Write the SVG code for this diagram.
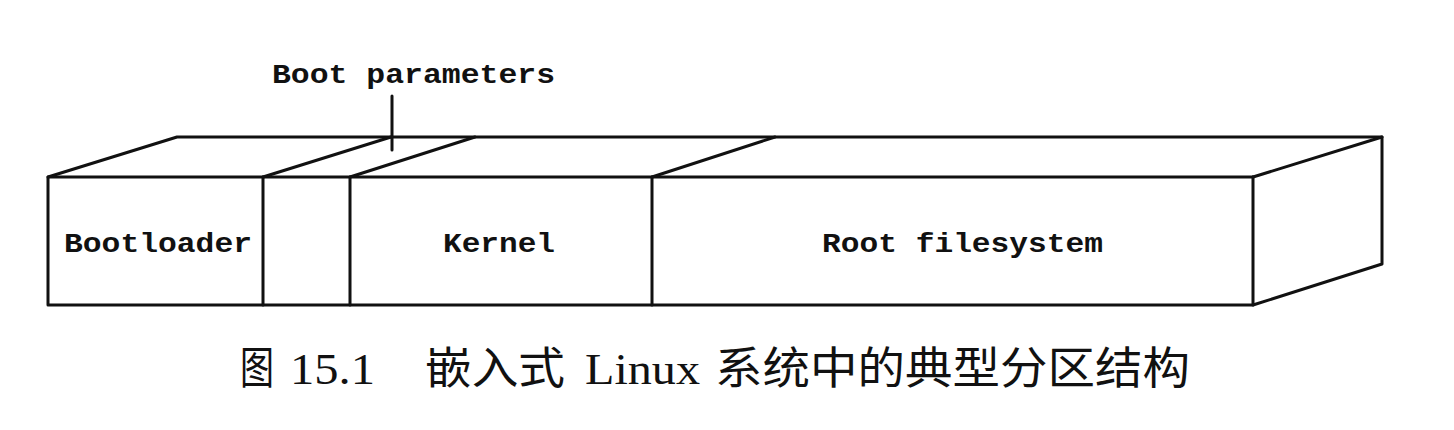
<svg xmlns="http://www.w3.org/2000/svg" width="1454" height="430" viewBox="0 0 1454 430">
<style>
.ln{fill:none;stroke:#111;stroke-width:3;stroke-linejoin:round;stroke-linecap:round}
.lbl{font-family:"Liberation Mono","DejaVu Sans Mono",monospace;font-weight:bold;font-size:28px;fill:#111}
.cap{font-family:"Liberation Serif","Noto Sans CJK SC",serif;font-size:44px;fill:#111}
</style>
<rect width="1454" height="430" fill="#fff"/>
<g id="box">
<polygon class="ln" points="48,177 177,137 1382,137 1382,264 1253,305 48,305"/>
<line class="ln" x1="1253" y1="177" x2="1382" y2="137"/>
<line class="ln" x1="48" y1="177" x2="1253" y2="177"/>
<line class="ln" x1="1253" y1="177" x2="1253" y2="305"/>
</g>
<g id="bootloader">
<line class="ln" x1="263" y1="177" x2="263" y2="305"/>
<line class="ln" x1="263" y1="177" x2="391" y2="137"/>
<text class="lbl" x="64" y="252" textLength="188" lengthAdjust="spacingAndGlyphs">Bootloader</text>
</g>
<g id="bootparams">
<line class="ln" x1="350" y1="177" x2="350" y2="305"/>
<line class="ln" x1="350" y1="177" x2="475" y2="137"/>
</g>
<g id="kernel">
<line class="ln" x1="652" y1="177" x2="652" y2="305"/>
<line class="ln" x1="652" y1="177" x2="775" y2="137"/>
<text class="lbl" x="443" y="252" textLength="112" lengthAdjust="spacingAndGlyphs">Kernel</text>
</g>
<g id="rootfs">
<text class="lbl" x="822" y="252" textLength="281" lengthAdjust="spacingAndGlyphs">Root filesystem</text>
</g>
<g id="connectors">
<line class="ln" x1="392" y1="96" x2="392" y2="150"/>
</g>
<g id="label-bootparams">
<text class="lbl" x="272" y="83" textLength="283" lengthAdjust="spacingAndGlyphs">Boot parameters</text>
</g>
<g id="caption">
<text class="cap" x="240" y="384" textLength="34" lengthAdjust="spacingAndGlyphs">图</text>
<text class="cap" x="290" y="384" textLength="85" lengthAdjust="spacingAndGlyphs">15.1</text>
<text class="cap" x="425" y="384" textLength="140" lengthAdjust="spacingAndGlyphs">嵌入式</text>
<text class="cap" x="585" y="384" textLength="115" lengthAdjust="spacingAndGlyphs">Linux</text>
<text class="cap" x="715" y="384" textLength="475" lengthAdjust="spacingAndGlyphs">系统中的典型分区结构</text>
</g>
</svg>
